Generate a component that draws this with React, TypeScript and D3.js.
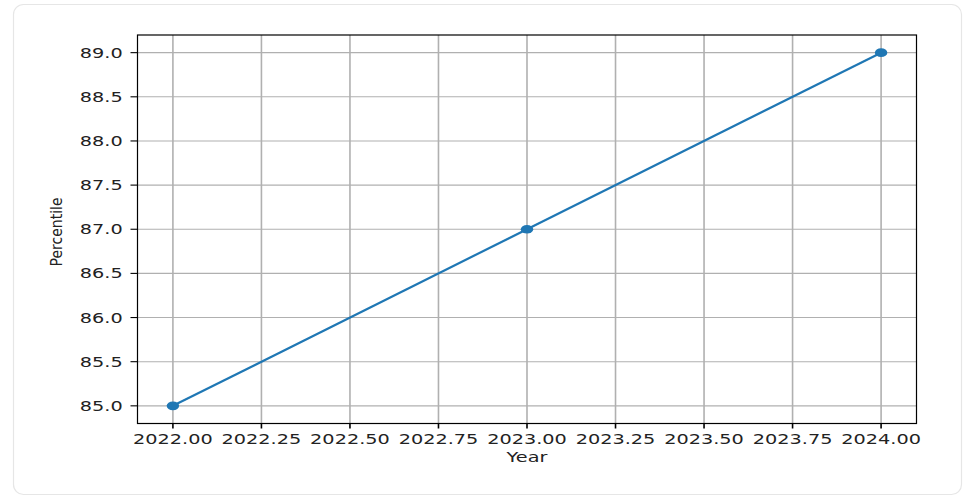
import * as d3 from "d3";

// data
const years = [2022, 2023, 2024];
const percentiles = [85, 87, 89];
const xTicks = [2022, 2022.25, 2022.5, 2022.75, 2023, 2023.25, 2023.5, 2023.75, 2024];
const yTicks = [85, 85.5, 86, 86.5, 87, 87.5, 88, 88.5, 89];

const width = 966;
const height = 500;

// the picture is stretched sideways, so horizontal text and markers are too
const stretch = 1.45;

const plot = { left: 137.5, right: 916.5, top: 35, bottom: 423.5 };
const font = "'DejaVu Sans', sans-serif";
const fontSize = 13.3;
const lineColor = "#1f77b4";

export default function App() {
  const x = d3.scaleLinear([2021.9, 2024.1], [plot.left, plot.right]);
  const y = d3.scaleLinear([84.8, 89.2], [plot.bottom, plot.top]);

  const points = years.map((yr, i) => [yr, percentiles[i]] as [number, number]);
  const line = d3.line(
    (d) => x(d[0]),
    (d) => y(d[1]),
  );

  return (
    <svg
      width={width}
      height={height}
      style={{ position: "absolute", left: 0, top: 0, background: "#fff" }}
    >
      <rect
        x={13.5}
        y={4.5}
        width={948}
        height={490}
        rx={10}
        fill="#fff"
        stroke="#e6e6e6"
        strokeWidth={1.2}
      />

      {/* grid */}
      <g stroke="#b0b0b0" fill="none">
        {xTicks.map((t) => (
          <line key={t} x1={x(t)} x2={x(t)} y1={plot.top} y2={plot.bottom} strokeWidth={1.6} />
        ))}
        {yTicks.map((t) => (
          <line key={t} x1={plot.left} x2={plot.right} y1={y(t)} y2={y(t)} strokeWidth={1.1} />
        ))}
      </g>

      {/* the series */}
      <path d={line(points) ?? ""} fill="none" stroke={lineColor} strokeWidth={2.2} />
      {points.map((p, i) => (
        <ellipse
          key={i}
          cx={x(p[0])}
          cy={y(p[1])}
          rx={4.3 * stretch}
          ry={4.3}
          fill={lineColor}
        />
      ))}

      {/* axes box */}
      <rect
        x={plot.left}
        y={plot.top}
        width={plot.right - plot.left}
        height={plot.bottom - plot.top}
        fill="none"
        stroke="#000"
        strokeWidth={1.2}
      />

      <g fontFamily={font} fontSize={fontSize} fill="#222">
        {xTicks.map((t) => (
          <g key={t}>
            <line x1={x(t)} x2={x(t)} y1={plot.bottom} y2={plot.bottom + 5} stroke="#000" strokeWidth={1.6} />
            <text
              transform={`translate(${x(t)} ${443.5}) scale(${stretch} 1)`}
              textAnchor="middle"
            >
              {t.toFixed(2)}
            </text>
          </g>
        ))}
        {yTicks.map((t) => (
          <g key={t}>
            <line x1={plot.left - 7} x2={plot.left} y1={y(t)} y2={y(t)} stroke="#000" strokeWidth={1.1} />
            <text
              transform={`translate(${122.7} ${y(t) + 5}) scale(${stretch} 1)`}
              textAnchor="end"
            >
              {t.toFixed(1)}
            </text>
          </g>
        ))}
        <text
          transform={`translate(${(plot.left + plot.right) / 2} ${462}) scale(${stretch} 1)`}
          textAnchor="middle"
        >
          Year
        </text>
        {/* rotated label is only slightly widened in the reference */}
        <text
          transform={`translate(${61.5} ${232}) scale(1.1 1) rotate(-90)`}
          textAnchor="middle"
          fontSize={14}
        >
          Percentile
        </text>
      </g>
    </svg>
  );
}
